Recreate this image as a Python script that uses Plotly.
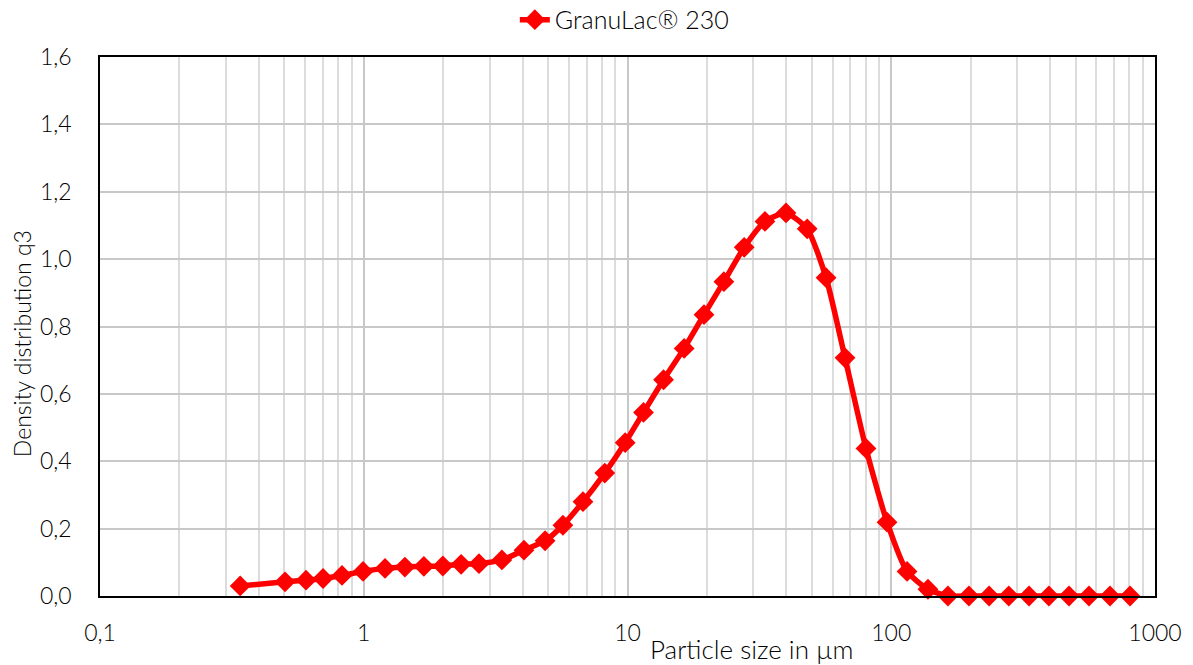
import plotly.graph_objects as go

# Particle size (µm) and density distribution q3
size_um = [0.34, 0.503, 0.604, 0.701, 0.827, 0.994, 1.204, 1.432, 1.69, 1.995,
           2.34, 2.735, 3.34, 4.05, 4.87, 5.69, 6.78, 8.2, 9.8, 11.5,
           13.7, 16.4, 19.5, 23.2, 27.7, 33.2, 39.9, 48.0, 56.6, 66.8,
           80.2, 96.4, 114.8, 137.8, 164, 197, 235, 279, 333, 396,
           472, 562, 675, 804]
q3 = [0.030, 0.042, 0.047, 0.052, 0.061, 0.073, 0.082, 0.086, 0.088, 0.089,
      0.094, 0.096, 0.107, 0.136, 0.164, 0.210, 0.280, 0.365, 0.455, 0.545,
      0.642, 0.735, 0.835, 0.933, 1.035, 1.112, 1.137, 1.090, 0.945, 0.707,
      0.438, 0.219, 0.073, 0.020, 0.0, 0.0, 0.0, 0.0, 0.0, 0.0,
      0.0, 0.0, 0.0, 0.0]
series_name = "GranuLac® 230"
x_tickvals = [0.1, 1, 10, 100, 1000]
x_ticktext = ["0,1", "1", "10", "100", "1000"]
y_title = "Density distribution q3"
x_title = "Particle size in µm"

FONT = "Lato"

fig = go.Figure()
fig.add_trace(go.Scatter(
    x=size_um, y=q3, name=series_name, mode="lines+markers",
    line=dict(color="#FF0000", width=5.5, shape="spline", smoothing=0.6),
    marker=dict(symbol="diamond", size=16, color="#FF0000"),
    cliponaxis=False,
))

fig.update_layout(
    width=1193, height=665,
    margin=dict(l=100, r=38, t=57, b=69, autoexpand=False),
    paper_bgcolor="white", plot_bgcolor="white",
    font=dict(family=FONT, size=23, color="#000000", weight=300),
    separators=", ",
    showlegend=True,
    legend=dict(orientation="h", x=0.497, xanchor="center", y=0.97, yanchor="middle",
                yref="container", font=dict(size=25, weight=300)),
    xaxis=dict(
        type="log", range=[-1, 3],
        tickvals=x_tickvals, ticktext=x_ticktext,
        showgrid=True, gridcolor="#C8C8C8", gridwidth=1.5,
        minor=dict(showgrid=True, gridcolor="#DCDCDC", gridwidth=1.5, dtick="D1"),
        showline=True, linecolor="black", linewidth=1.5, mirror=True,
        ticks="", ticklabelstandoff=16, zeroline=False,
    ),
    yaxis=dict(
        range=[0, 1.6], dtick=0.2, tickformat=".1f",
        showgrid=True, gridcolor="#C8C8C8", gridwidth=1.5,
        showline=True, linecolor="black", linewidth=1.5, mirror=True,
        ticks="", ticklabelstandoff=22, zeroline=False,
    ),
    annotations=[
        dict(text=x_title, xref="paper", yref="paper", x=0.618, y=-0.099,
             xanchor="center", yanchor="middle", showarrow=False,
             font=dict(size=26, weight=300)),
        dict(text=y_title, xref="paper", yref="paper", x=-0.074, y=0.469,
             xanchor="center", yanchor="middle", textangle=-90, showarrow=False,
             font=dict(size=23, weight=300)),
    ],
)

fig.write_html("out.html")
